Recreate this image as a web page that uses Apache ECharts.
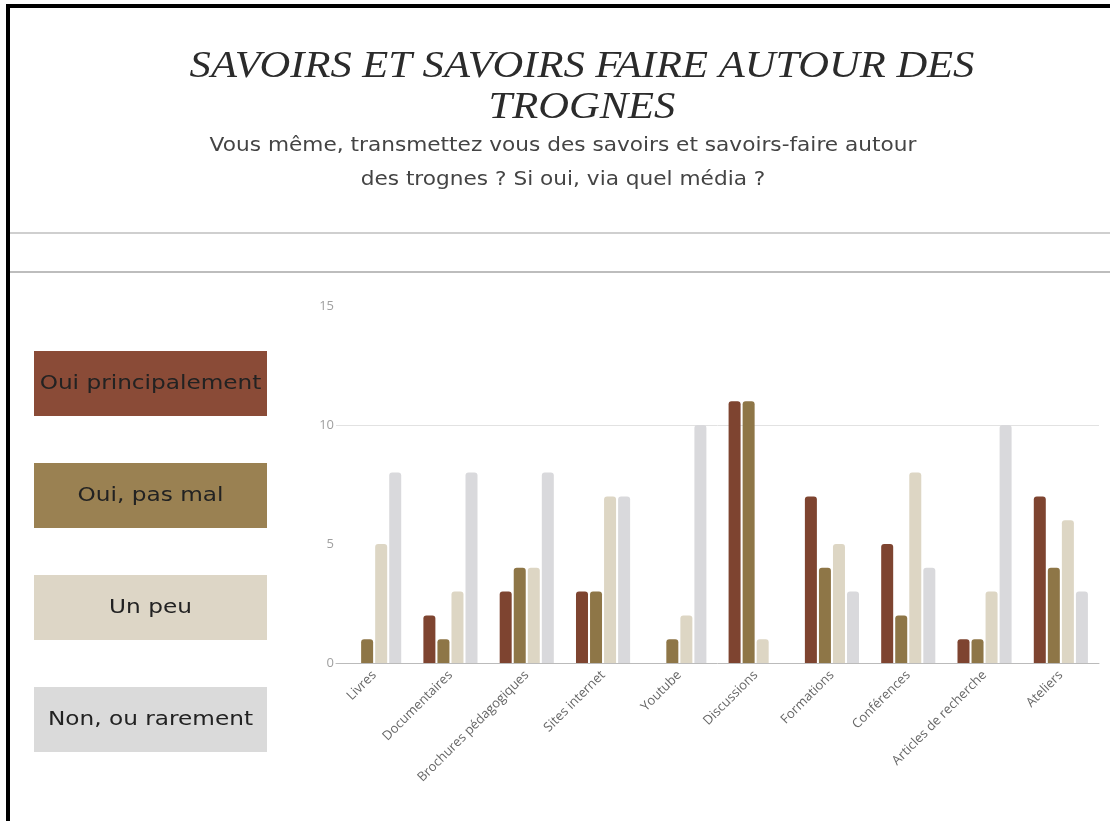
<!DOCTYPE html>
<html>
<head>
<meta charset="utf-8">
<script src="https://cdn.jsdelivr.net/npm/echarts@6/dist/echarts.min.js"></script>
<style>
  html, body { margin: 0; padding: 0; background: #fff; }
  #chart { width: 1110px; height: 821px; }
</style>
</head>
<body>
<div id="chart"></div>
<script>
// catégories (axe x)
const categories = ['Livres', 'Documentaires', 'Brochures pédagogiques', 'Sites internet', 'Youtube',
  'Discussions', 'Formations', 'Conférences', 'Articles de recherche', 'Ateliers']
// noms des séries (légende à gauche)
const seriesNames = ['Oui principalement', 'Oui, pas mal', 'Un peu', 'Non, ou rarement']
// valeurs
const ouiPrincipalement = [0, 2, 3, 3, 0, 11, 7, 5, 1, 7]
const ouiPasMal = [1, 1, 4, 3, 1, 11, 4, 2, 1, 4]
const unPeu = [5, 3, 4, 7, 2, 1, 5, 8, 3, 6]
const nonRarement = [8, 8, 8, 7, 10, 0, 3, 4, 10, 3]
const yTicks = [0, 5, 10, 15]

const seriesData = [ouiPrincipalement, ouiPasMal, unPeu, nonRarement]
const barColors = ['#7e4430', '#8e7647', '#ddd6c4', '#d9d9dc']
const boxColors = ['#8a4b37', '#9a8152', '#ddd6c6', '#dadada']

const chart = echarts.init(document.getElementById('chart'))

// texte centré (titre, sous-titre, légende)
function label(text, x, y, font, fill, scaleX, vAlign) {
  return {
    type: 'text',
    x,
    y,
    scaleX,
    style: {
      text,
      fill,
      font,
      align: 'center',
      verticalAlign: vAlign,
      textAlign: 'center',
      textVerticalAlign: vAlign,
    },
  }
}

// légende dessinée à la main (boîtes colorées)
const legendGraphics = seriesNames.map((name, i) => ({
  type: 'group',
  x: 34,
  y: 351 + i * 112,
  children: [
    { type: 'rect', shape: { x: 0, y: 0, width: 233, height: 65 }, style: { fill: boxColors[i] } },
    label(name, 116.5, 33, '20px "DejaVu Sans"', '#222', 1.16, 'middle'),
  ],
}))

const option = {
  animation: false,
  backgroundColor: '#fff',
  graphic: [
    // cadre noir haut / gauche
    { type: 'rect', shape: { x: 6, y: 4, width: 1104, height: 4 }, style: { fill: '#000' } },
    { type: 'rect', shape: { x: 6, y: 4, width: 4, height: 817 }, style: { fill: '#000' } },
    // séparateurs gris
    { type: 'rect', shape: { x: 10, y: 232, width: 1100, height: 2 }, style: { fill: '#cfcfcf' } },
    { type: 'rect', shape: { x: 10, y: 271, width: 1100, height: 2 }, style: { fill: '#bdbdbd' } },
    // titre
    label('SAVOIRS ET SAVOIRS FAIRE AUTOUR DES', 582, 86, 'italic 38px "Liberation Serif"', '#2b2b2b', 1.12, 'bottom'),
    label('TROGNES', 582, 127, 'italic 38px "Liberation Serif"', '#2b2b2b', 1.12, 'bottom'),
    // sous-titre
    label('Vous même, transmettez vous des savoirs et savoirs-faire autour', 563, 146, '19px "DejaVu Sans"', '#444', 1.14, 'middle'),
    label('des trognes ? Si oui, via quel média ?', 563, 180, '19px "DejaVu Sans"', '#444', 1.14, 'middle'),
    ...legendGraphics,
  ],
  grid: {
    left: 336,
    right: 11,
    top: 306,
    bottom: 158,
  },
  xAxis: {
    type: 'category',
    data: categories,
    axisLine: { lineStyle: { color: '#bbb' } },
    axisTick: { show: false },
    axisLabel: {
      rotate: 45,
      color: '#666',
      fontSize: 13,
      fontFamily: 'Open Sans',
      margin: 10,
      interval: 0,
    },
  },
  yAxis: {
    type: 'value',
    min: yTicks[0],
    max: yTicks[yTicks.length - 1],
    interval: 5,
    axisLine: { show: false },
    axisTick: { show: false },
    axisLabel: { color: '#a0a0a0', fontSize: 13, fontFamily: 'Open Sans', margin: 2 },
    splitLine: {
      show: true,
      lineStyle: { color: ['rgba(0,0,0,0)', 'rgba(0,0,0,0)', '#e2e2e2', 'rgba(0,0,0,0)'] },
    },
  },
  series: seriesNames.map((name, i) => ({
    name,
    type: 'bar',
    data: seriesData[i],
    barWidth: 12,
    barGap: '17%',
    itemStyle: { color: barColors[i], borderRadius: [3, 3, 0, 0] },
  })),
}

chart.setOption(option)
</script>
</body>
</html>
